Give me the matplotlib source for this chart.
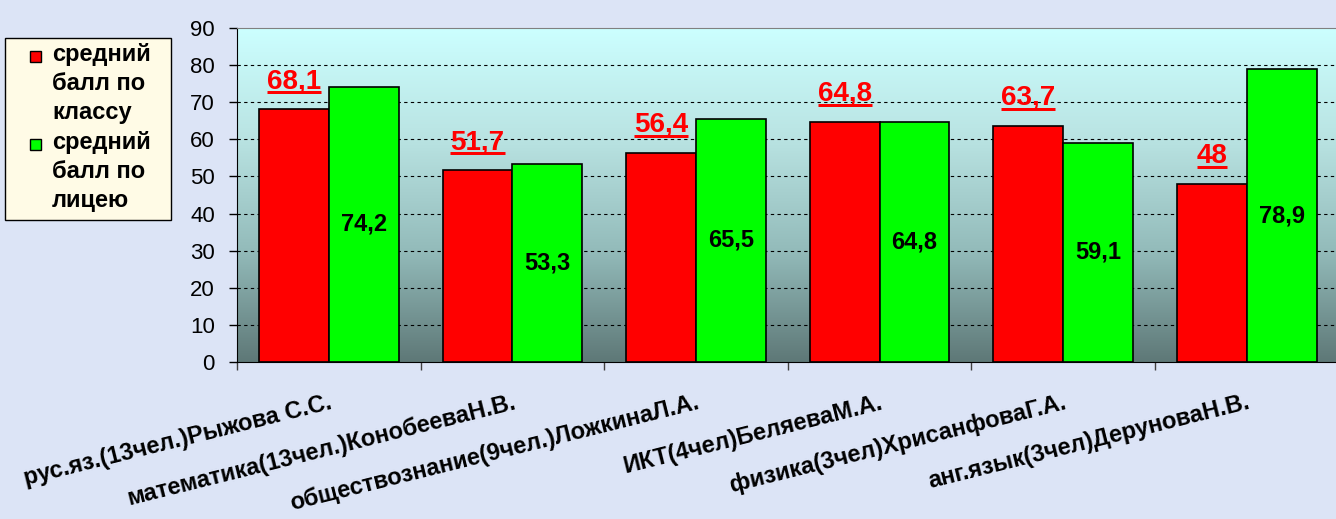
import numpy as np
import matplotlib
matplotlib.use("Agg")
import matplotlib.pyplot as plt
from matplotlib.colors import LinearSegmentedColormap
from matplotlib.lines import Line2D
from matplotlib.patches import Rectangle
from matplotlib.transforms import IdentityTransform

plt.rcParams['font.family'] = ['Liberation Sans', 'DejaVu Sans']

# === Données ===
categories = [
    "рус.яз.(13чел.)Рыжова С.С.",
    "математика(13чел.)КонобееваН.В.",
    "обществознание(9чел.)ЛожкинаЛ.А.",
    "ИКТ(4чел)БеляеваМ.А.",
    "физика(3чел)ХрисанфоваГ.А.",
    "анг.язык(3чел)ДеруноваН.В.",
]
class_avg = [68.1, 51.7, 56.4, 64.8, 63.7, 48]
lyceum_avg = [74.2, 53.3, 65.5, 64.8, 59.1, 78.9]
class_labels = ["68,1", "51,7", "56,4", "64,8", "63,7", "48"]
lyceum_labels = ["74,2", "53,3", "65,5", "64,8", "59,1", "78,9"]
legend_names = [["средний", "балл по", "классу"], ["средний", "балл по", "лицею"]]
legend_colors = ['#FF0000', '#00FF00']

W, H, DPI = 1336, 519, 100
fig = plt.figure(figsize=(W / DPI, H / DPI), dpi=DPI, facecolor='#DCE4F6')
ax = fig.add_axes([237 / W, 1 - 362 / H, 1 - 237 / W + 0.002, (362 - 28) / H])

x = np.arange(len(categories))
bw = 0.38

# === Fond dégradé de la zone de tracé ===
cmap = LinearSegmentedColormap.from_list('plotbg', ['#5E7877', '#93BBBA', '#B9E3E2', '#CCFFFF'])
grad = np.linspace(0, 1, 256).reshape(-1, 1)
ax.imshow(grad, extent=[-0.5, 5.5, 0, 90], aspect='auto', cmap=cmap,
          origin='lower', zorder=0, interpolation='bicubic')

# grille pointillée
for lvl in range(10, 90, 10):
    ax.axhline(lvl, color='black', linestyle=(0, (3, 3)), linewidth=0.8, zorder=1)

# === Barres ===
ax.bar(x - bw / 2, class_avg, width=bw, color='#FF0000', edgecolor='black', linewidth=1.2, zorder=2)
ax.bar(x + bw / 2, lyceum_avg, width=bw, color='#00FF00', edgecolor='black', linewidth=1.2, zorder=2)

# valeurs classe (rouge, souligné, au-dessus)
red_texts = []
for xi, v, lab in zip(x, class_avg, class_labels):
    t = ax.annotate(lab, (xi - bw / 2, v), xytext=(0, 15), textcoords='offset points',
                    ha='center', va='baseline', color='#FF0000', fontsize=20,
                    fontweight='bold', zorder=3)
    red_texts.append((t, xi - bw / 2, v))

# valeurs lycée (noir, au milieu de la barre)
for xi, v, lab in zip(x, lyceum_avg, lyceum_labels):
    ax.text(xi + bw / 2, v / 2, lab, ha='center', va='center', color='black',
            fontsize=17, fontweight='bold', zorder=3)

# === Axes ===
ax.set_xlim(-0.5, 5.5)
ax.set_ylim(0, 90)
ax.set_yticks(range(0, 91, 10))
ax.tick_params(axis='y', direction='out', length=6, width=1, labelsize=16, pad=10)

ax.set_xticks(np.arange(-0.5, 6, 1))
ax.set_xticklabels([])
ax.tick_params(axis='x', which='major', direction='out', length=6, width=1, color='#404040')
ax.set_xticks(x, minor=True)
ax.set_xticklabels(categories, minor=True, rotation=14, ha='right', va='top',
                   rotation_mode='anchor', fontsize=17, fontweight='bold')
ax.tick_params(axis='x', which='minor', length=0, pad=21)

ax.spines['top'].set_color('#808080')
ax.spines['right'].set_visible(False)
ax.spines['left'].set_color('black')
ax.spines['bottom'].set_color('black')

# === Légende (dessinée à la main, pixels de la figure) ===
def fx(px):
    return px / W

def fy(py):
    return 1 - py / H

fig.add_artist(Rectangle((fx(5), fy(220)), fx(171) - fx(5), fy(38) - fy(220),
                         transform=fig.transFigure, facecolor='#FFFBE6',
                         edgecolor='black', linewidth=1.0))
baseline = 61
for color, lines in zip(legend_colors, legend_names):
    fig.add_artist(Rectangle((fx(30), fy(baseline + 1)), fx(41) - fx(30), fy(50) - fy(61),
                             transform=fig.transFigure, facecolor=color,
                             edgecolor='black', linewidth=1.0))
    for line in lines:
        fig.text(fx(52), fy(baseline), line, ha='left', va='baseline',
                 fontsize=17, fontweight='bold')
        baseline += 29.2

# === Soulignement des valeurs rouges ===
fig.canvas.draw()
renderer = fig.canvas.get_renderer()
for t, xb, v in red_texts:
    bb = t.get_window_extent(renderer)
    base = ax.transData.transform((xb, v))[1] + 15 * DPI / 72
    y_line = base - 4
    fig.add_artist(Line2D([bb.x0, bb.x1], [y_line, y_line], color='#FF0000',
                          linewidth=3 * 72 / DPI, transform=IdentityTransform(),
                          solid_capstyle='butt'))

fig.savefig('out.png', dpi=DPI, facecolor=fig.get_facecolor())
